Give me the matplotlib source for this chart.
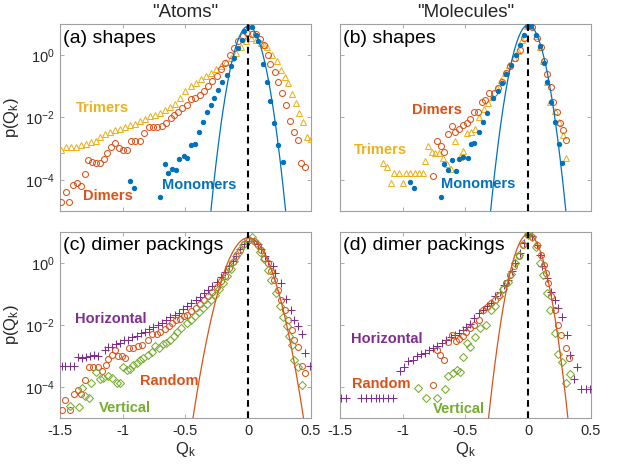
import numpy as np
import matplotlib
matplotlib.use("Agg")
import matplotlib.pyplot as plt
from matplotlib.ticker import FixedLocator, NullLocator

plt.rcParams['font.family'] = ['Liberation Sans', 'DejaVu Sans']
plt.rcParams['mathtext.fontset'] = 'custom'
plt.rcParams['mathtext.rm'] = 'Liberation Sans'
plt.rcParams['mathtext.it'] = 'Liberation Sans:italic'
plt.rcParams['axes.unicode_minus'] = False

# colours (matlab default order)
BLUE = '#0072BD'
ORANGE = '#D95319'
YELLOW = '#EDB120'
PURPLE = '#7E2F8E'
GREEN = '#77AC30'

# ---- data: x = Q_k, y = log10 p(Q_k) ----
# (a) "Atoms" shapes
a_tri_x = [-1.49, -1.45, -1.41, -1.37, -1.33, -1.29, -1.25, -1.21, -1.18, -1.14, -1.10, -1.06,
           -1.02, -0.98, -0.94, -0.90, -0.86, -0.82, -0.78, -0.74, -0.70, -0.66, -0.62, -0.58,
           -0.54, -0.50, -0.46, -0.42, -0.38, -0.34, -0.30, -0.26, -0.22, -0.18, -0.14, -0.10,
           -0.06, -0.02, 0.02, 0.06, 0.10, 0.128, 0.150, 0.187, 0.230, 0.262, 0.289, 0.320,
           0.350, 0.382, 0.408, 0.435, 0.470, 0.497]
a_tri_y = [-3.05, -2.95, -2.95, -2.95, -2.89, -2.84, -2.78, -2.76, -2.62, -2.52, -2.46, -2.41,
           -2.36, -2.30, -2.25, -2.20, -2.12, -2.04, -1.96, -1.91, -1.85, -1.77, -1.66, -1.56,
           -1.36, -1.14, -1.00, -0.88, -0.78, -0.67, -0.57, -0.46, -0.34, -0.22, -0.09, 0.06,
           0.26, 0.46, 0.55, 0.50, 0.40, 0.34, 0.25, 0.01, -0.18, -0.47, -0.69, -0.90,
           -1.26, -1.55, -1.87, -2.14, -2.62, -2.70]

a_dim_x = [-1.492, -1.455, -1.428, -1.398, -1.366, -1.332, -1.300, -1.273, -1.246, -1.212, -1.180,
           -1.153, -1.126, -1.094, -1.059, -1.033, -0.998, -0.966, -0.934, -0.899, -0.865, -0.833,
           -0.793, -0.758, -0.726, -0.691, -0.659, -0.619, -0.592, -0.558, -0.526, -0.491, -0.459,
           -0.424, -0.387, -0.352, -0.320, -0.286, -0.251, -0.219, -0.187, -0.149, -0.112, -0.080,
           -0.045, -0.011, 0.027, 0.061, 0.096, 0.128, 0.155, 0.176, 0.214, 0.241, 0.267, 0.302,
           0.329, 0.363, 0.395, 0.422, 0.454]
a_dim_y = [-4.71, -4.39, -4.71, -4.17, -4.10, -4.19, -3.80, -3.37, -3.42, -3.47, -3.47,
           -3.34, -3.15, -2.94, -2.83, -2.99, -3.04, -3.04, -2.77, -2.74, -2.74, -2.51,
           -2.29, -2.29, -2.29, -2.27, -2.18, -2.02, -1.91, -1.81, -1.70, -1.59, -1.41,
           -1.38, -1.27, -1.16, -1.00, -0.84, -0.68, -0.46, -0.25, 0.02, 0.24, 0.45,
           0.61, 0.72, 0.69, 0.67, 0.53, 0.31, 0.01, -0.29, -0.55, -0.85, -1.22, -1.60,
           -2.11, -2.48, -2.73, -3.45, -3.59]

a_mon_x = [-0.942, -0.907, -0.702, -0.667, -0.640, -0.608, -0.576, -0.549, -0.515, -0.488, -0.453,
           -0.427, -0.392, -0.360, -0.331, -0.299, -0.272, -0.240, -0.211, -0.173, -0.139, -0.112,
           -0.080, -0.053, -0.032, -0.005, 0.027, 0.062, 0.080, 0.115, 0.150, 0.176, 0.208, 0.240,
           0.275]
a_mon_y = [-4.05, -4.26, -4.56, -3.48, -3.77, -3.65, -3.70, -3.32, -3.24, -3.30, -2.87,
           -2.84, -2.48, -2.14, -1.84, -1.60, -1.36, -1.12, -0.85, -0.63, -0.36, -0.10,
           0.23, 0.50, 0.76, 0.89, 0.89, 0.66, 0.44, -0.29, -0.87, -1.46, -2.19, -2.87,
           -3.43]

# (b) "Molecules" shapes
b_tri_x = [-1.156, -1.124, -1.097, -1.068, -1.030, -1.001, -0.974, -0.942, -0.902, -0.868, -0.841,
           -0.822, -0.796, -0.769, -0.743, -0.708, -0.676, -0.644, -0.617, -0.582, -0.542, -0.521,
           -0.489, -0.456, -0.422, -0.390, -0.356, -0.323, -0.288, -0.248, -0.214, -0.182, -0.155,
           -0.115, -0.083, -0.048, -0.008, 0.026, 0.058, 0.093, 0.120, 0.147, 0.173, 0.211, 0.245,
           0.280, 0.304]
b_tri_y = [-3.47, -3.58, -4.10, -3.77, -3.77, -4.10, -3.77, -3.77, -3.77, -3.77, -3.77,
           -3.39, -2.91, -3.10, -3.13, -3.13, -3.30, -3.48, -3.65, -2.76, -3.27, -3.08,
           -2.49, -2.46, -2.37, -1.98, -1.73, -1.55, -1.33, -1.06, -0.79, -0.58, -0.31,
           -0.10, 0.14, 0.50, 0.93, 0.93, 0.60, 0.25, -0.18, -0.85, -1.49, -1.79, -2.16,
           -2.55, -3.30]

b_dim_x = [-0.761, -0.729, -0.697, -0.670, -0.636, -0.609, -0.582, -0.548, -0.521, -0.489, -0.462,
           -0.436, -0.404, -0.368, -0.342, -0.310, -0.275, -0.243, -0.208, -0.174, -0.142, -0.102,
           -0.067, -0.035, 0.000, 0.032, 0.066, 0.098, 0.125, 0.152, 0.179, 0.200, 0.227, 0.253,
           0.277, 0.304]
b_dim_y = [-3.88, -2.77, -2.90, -3.10, -2.52, -2.27, -2.46, -2.37, -2.25, -2.19, -2.05,
           -1.84, -1.82, -1.49, -1.44, -1.23, -1.23, -1.04, -0.85, -0.58, -0.36, -0.10,
           0.17, 0.55, 0.93, 0.89, 0.55, 0.25, -0.20, -0.61, -1.01, -1.49, -1.84, -2.19,
           -2.41, -2.73]

b_mon_x = [-0.942, -0.910, -0.697, -0.668, -0.636, -0.609, -0.574, -0.548, -0.516, -0.481, -0.456,
           -0.430, -0.390, -0.360, -0.328, -0.283, -0.243, -0.208, -0.174, -0.136, -0.096, -0.062,
           -0.030, 0.000, 0.026, 0.058, 0.093, 0.125, 0.152, 0.184, 0.211, 0.243, 0.272]
b_mon_y = [-4.07, -4.26, -4.56, -3.48, -3.67, -3.38, -3.72, -3.32, -3.27, -3.30, -2.84,
           -2.81, -2.48, -2.16, -1.87, -1.36, -1.15, -0.90, -0.61, -0.31, 0.01, 0.31,
           0.66, 0.93, 0.93, 0.64, 0.28, -0.26, -0.85, -1.49, -2.14, -2.84, -3.45]

# (c) "Atoms" dimer packings
c_hor_x = [-1.487, -1.457, -1.422, -1.388, -1.356, -1.323, -1.289, -1.262, -1.227, -1.195, -1.142,
           -1.115, -1.089, -1.057, -1.022, -0.987, -0.955, -0.923, -0.889, -0.854, -0.822, -0.789,
           -0.755, -0.721, -0.689, -0.657, -0.622, -0.587, -0.555, -0.523, -0.488, -0.455, -0.420,
           -0.385, -0.352, -0.320, -0.285, -0.251, -0.219, -0.187, -0.152, -0.125, -0.098, -0.064,
           -0.032, 0.008, 0.043, 0.075, 0.102, 0.130, 0.160, 0.195, 0.216, 0.262, 0.302, 0.342,
           0.368, 0.395, 0.428, 0.454, 0.489]
c_hor_y = [-3.31, -3.31, -3.31, -3.31, -3.03, -3.07, -3.03, -2.99, -2.96, -3.01, -2.80,
           -2.71, -2.71, -2.60, -2.58, -2.50, -2.47, -2.39, -2.35, -2.26, -2.21, -2.13,
           -2.06, -2.01, -1.94, -1.83, -1.74, -1.68, -1.60, -1.50, -1.40, -1.30, -1.20,
           -1.09, -0.98, -0.86, -0.73, -0.60, -0.45, -0.29, -0.10, 0.06, 0.24, 0.45,
           0.62, 0.72, 0.70, 0.60, 0.45, 0.22, 0.05, -0.11, -0.32, -0.65, -1.16, -1.51,
           -1.83, -2.04, -2.28, -2.90, -3.31]

c_ran_x = [-1.484, -1.457, -1.422, -1.388, -1.356, -1.334, -1.297, -1.270, -1.235, -1.201, -1.169,
           -1.137, -1.115, -1.089, -1.062, -1.035, -1.008, -0.982, -0.950, -0.915, -0.875, -0.843,
           -0.801, -0.763, -0.729, -0.701, -0.667, -0.635, -0.608, -0.576, -0.541, -0.515, -0.491,
           -0.453, -0.419, -0.384, -0.352, -0.320, -0.285, -0.251, -0.219, -0.187, -0.152, -0.125,
           -0.098, -0.064, -0.032, 0.008, 0.043, 0.075, 0.102, 0.128, 0.155, 0.182, 0.208, 0.235,
           0.262, 0.294, 0.320, 0.347, 0.368, 0.395, 0.428, 0.454]
c_ran_y = [-4.73, -4.41, -4.73, -4.22, -4.11, -4.22, -3.76, -3.34, -3.34, -3.36, -3.50,
           -3.28, -3.10, -2.96, -2.82, -3.01, -3.01, -3.06, -2.74, -2.74, -2.69, -2.64,
           -2.47, -2.28, -2.28, -2.24, -2.13, -2.04, -1.92, -1.85, -1.81, -1.72, -1.67,
           -1.56, -1.45, -1.31, -1.18, -1.08, -0.92, -0.77, -0.59, -0.41, -0.16, 0.02,
           0.21, 0.43, 0.62, 0.73, 0.70, 0.59, 0.41, 0.16, 0.00, -0.27, -0.54, -0.86,
           -1.18, -1.51, -1.83, -2.15, -2.47, -2.71, -3.31, -3.55]

c_ver_x = [-1.42, -1.35, -1.323, -1.297, -1.270, -1.249, -1.217, -1.182, -1.155, -1.121, -1.089,
           -1.049, -1.022, -0.995, -0.969, -0.942, -0.915, -0.889, -0.862, -0.835, -0.801, -0.769,
           -0.741, -0.715, -0.683, -0.657, -0.622, -0.595, -0.568, -0.533, -0.491, -0.459, -0.427,
           -0.392, -0.357, -0.325, -0.293, -0.264, -0.232, -0.205, -0.171, -0.139, -0.112, -0.080,
           -0.045, -0.005, 0.027, 0.062, 0.096, 0.128, 0.155, 0.182, 0.222, 0.256, 0.275, 0.310,
           0.328, 0.347, 0.368, 0.395, 0.428]
c_ver_y = [-4.62, -4.64, -4.03, -4.30, -4.35, -3.87, -3.53, -3.74, -3.71, -3.64, -3.71,
           -3.87, -3.87, -3.34, -3.44, -3.42, -3.28, -3.21, -3.14, -3.06, -2.96, -2.88,
           -2.69, -2.74, -2.60, -2.58, -2.47, -2.37, -2.21, -2.10, -1.94, -1.83, -1.72,
           -1.59, -1.45, -1.31, -1.18, -1.02, -0.84, -0.65, -0.43, -0.19, 0.05, 0.32,
           0.59, 0.77, 0.84, 0.66, 0.37, 0.13, -0.24, -0.56, -0.97, -1.40, -1.74, -2.04,
           -2.35, -2.64, -3.14, -3.35, -3.93]

# (d) "Molecules" dimer packings
d_hor_x = [-1.489, -1.449, -1.329, -1.289, -1.249, -1.214, -1.188, -1.156, -1.116, -1.076,
           -1.022, -0.990, -0.956, -0.921, -0.889, -0.857, -0.822, -0.788, -0.756, -0.724, -0.689,
           -0.654, -0.617, -0.582, -0.548, -0.520, -0.494, -0.462, -0.435, -0.395, -0.360, -0.328,
           -0.296, -0.262, -0.227, -0.195, -0.163, -0.128, -0.102, -0.067, -0.035, -0.003, 0.032,
           0.066, 0.093, 0.112, 0.147, 0.179, 0.211, 0.237, 0.272, 0.307, 0.333, 0.365, 0.392,
           0.424, 0.459, 0.493]
d_hor_y = [-4.35, -4.35, -4.35, -4.35, -4.35, -4.35, -4.35, -4.35, -4.35, -4.35,
           -3.50, -3.35, -3.17, -3.12, -2.99, -2.93, -2.90, -2.80, -2.74, -2.67, -2.58,
           -2.47, -2.39, -2.31, -2.26, -2.15, -2.06, -1.96, -1.77, -1.61, -1.51, -1.40,
           -1.29, -1.08, -0.92, -0.70, -0.54, -0.27, 0.00, 0.32, 0.66, 0.91, 0.86,
           0.59, 0.27, -0.11, -0.48, -0.92, -1.18, -1.45, -1.74, -2.31, -2.96, -3.74, -3.35,
           -4.06, -4.06, -4.06]

d_ran_x = [-0.761, -0.729, -0.702, -0.670, -0.636, -0.609, -0.574, -0.548, -0.520, -0.494, -0.462,
           -0.430, -0.395, -0.360, -0.328, -0.296, -0.267, -0.235, -0.200, -0.174, -0.142, -0.110,
           -0.075, -0.040, -0.003, 0.032, 0.066, 0.098, 0.125, 0.139, 0.157, 0.184, 0.211, 0.237,
           0.264, 0.299, 0.325]
d_ran_y = [-3.93, -2.80, -2.96, -3.12, -2.56, -2.31, -2.53, -2.45, -2.35, -2.21, -2.10,
           -1.99, -1.83, -1.51, -1.42, -1.29, -1.18, -1.02, -0.84, -0.65, -0.38, -0.11,
           0.21, 0.59, 0.91, 0.84, 0.59, 0.27, -0.05, -0.32, -0.65, -1.08, -1.51, -1.99,
           -2.31, -2.74, -3.06]

d_ver_x = [-0.876, -0.814, -0.729, -0.662, -0.636, -0.596, -0.569, -0.542, -0.516, -0.486, -0.462,
           -0.426, -0.382, -0.334, -0.296, -0.262, -0.230, -0.200, -0.165, -0.135, -0.105, -0.075,
           -0.040, 0.000, 0.030, 0.065, 0.095, 0.120, 0.147, 0.173, 0.211, 0.237, 0.272, 0.304,
           0.333]
d_ver_y = [-4.03, -4.35, -4.35, -4.06, -3.64, -3.55, -3.44, -3.53, -3.03, -2.57, -2.71,
           -2.40, -2.10, -1.99, -1.53, -1.40, -1.05, -0.85, -0.60, -0.35, 0.00, 0.25,
           0.60, 0.95, 0.85, 0.50, 0.00, -0.40, -0.97, -1.51, -2.26, -2.93, -3.19, -3.87,
           -3.57]

# gaussian reference curves: (peak height, sigma)
gauss_a = (8.5, 0.057)
gauss_b = (9.3, 0.0572)
gauss_c = (6.5, 0.0851)
gauss_d = (8.5, 0.0605)

xticks = [-1.5, -1, -0.5, 0, 0.5]
xtick_labels = ['-1.5', '-1', '-0.5', '0', '0.5']
yticks = [1e-4, 1e-2, 1e0]
ytick_labels = [r'$\mathregular{10^{-4}}$', r'$\mathregular{10^{-2}}$', r'$\mathregular{10^{0}}$']

FRAME = '#a0a0a0'
TXT = '#262626'

fig = plt.figure(figsize=(6.23, 4.72), dpi=100)
ax_a = fig.add_axes([0.0963, 0.5530, 0.4029, 0.3962])
ax_b = fig.add_axes([0.5457, 0.5530, 0.4029, 0.3962])
ax_c = fig.add_axes([0.0963, 0.1144, 0.4029, 0.3941])
ax_d = fig.add_axes([0.5457, 0.1144, 0.4029, 0.3941])


def pts(xs, ys):
    return np.array(xs), 10.0 ** np.array(ys)


def setup(ax, left, bottom):
    ax.set_yscale('log')
    ax.set_xlim(-1.5, 0.5)
    ax.set_ylim(1e-5, 10)
    ax.xaxis.set_major_locator(FixedLocator(xticks))
    ax.yaxis.set_major_locator(FixedLocator(yticks))
    ax.yaxis.set_minor_locator(NullLocator())
    ax.xaxis.set_minor_locator(NullLocator())
    ax.tick_params(direction='in', length=3, width=0.6, color=FRAME, top=True, right=True,
                   labelsize=10.5, labelcolor=TXT, pad=4)
    if bottom:
        ax.set_xticklabels(xtick_labels)
        ax.set_xlabel(r'Q$_\mathregular{k}$', fontsize=12, color=TXT, labelpad=2)
    else:
        ax.set_xticklabels([])
    if left:
        ax.set_yticklabels(ytick_labels)
        ax.set_ylabel(r'p(Q$_\mathregular{k}$)', fontsize=12, color=TXT, labelpad=3)
    else:
        ax.set_yticklabels([])
    for s in ax.spines.values():
        s.set_color(FRAME)
        s.set_linewidth(0.8)


def gauss_line(ax, params, color):
    amp, sig = params
    q = np.linspace(-1.5, 0.5, 1001)
    ax.plot(q, amp * np.exp(-q ** 2 / (2 * sig ** 2)), color=color, lw=0.9, zorder=4)
    ax.axvline(0, color='k', ls=(0, (3.2, 2.2)), lw=1.5, zorder=5)


mk = dict(ls='none', mew=0.75, zorder=3)
MS_O, MS_TRI, MS_DIA, MS_PLUS, MS_DOT = 4.3, 4.8, 3.9, 5.5, 3.1

# (a)
x, y = pts(a_tri_x, a_tri_y)
ax_a.plot(x, y, marker='^', ms=MS_TRI, mfc='none', mec=YELLOW, **mk)
x, y = pts(a_dim_x, a_dim_y)
ax_a.plot(x, y, marker='o', ms=MS_O, mfc='none', mec=ORANGE, **mk)
x, y = pts(a_mon_x, a_mon_y)
ax_a.plot(x, y, marker='o', ms=MS_DOT, mfc=BLUE, mec=BLUE, **mk)
gauss_line(ax_a, gauss_a, BLUE)

# (b)
x, y = pts(b_tri_x, b_tri_y)
ax_b.plot(x, y, marker='^', ms=MS_TRI, mfc='none', mec=YELLOW, **mk)
x, y = pts(b_dim_x, b_dim_y)
ax_b.plot(x, y, marker='o', ms=MS_O, mfc='none', mec=ORANGE, **mk)
x, y = pts(b_mon_x, b_mon_y)
ax_b.plot(x, y, marker='o', ms=MS_DOT, mfc=BLUE, mec=BLUE, **mk)
gauss_line(ax_b, gauss_b, BLUE)

# (c)
x, y = pts(c_hor_x, c_hor_y)
ax_c.plot(x, y, marker='+', ms=MS_PLUS, mec=PURPLE, **mk)
x, y = pts(c_ran_x, c_ran_y)
ax_c.plot(x, y, marker='o', ms=MS_O, mfc='none', mec=ORANGE, **mk)
x, y = pts(c_ver_x, c_ver_y)
ax_c.plot(x, y, marker='D', ms=MS_DIA, mfc='none', mec=GREEN, **mk)
gauss_line(ax_c, gauss_c, ORANGE)

# (d)
x, y = pts(d_hor_x, d_hor_y)
ax_d.plot(x, y, marker='+', ms=MS_PLUS, mec=PURPLE, **mk)
x, y = pts(d_ran_x, d_ran_y)
ax_d.plot(x, y, marker='o', ms=MS_O, mfc='none', mec=ORANGE, **mk)
x, y = pts(d_ver_x, d_ver_y)
ax_d.plot(x, y, marker='D', ms=MS_DIA, mfc='none', mec=GREEN, **mk)
gauss_line(ax_d, gauss_d, ORANGE)

setup(ax_a, True, False)
setup(ax_b, False, False)
setup(ax_c, True, True)
setup(ax_d, False, True)

ax_a.set_title('"Atoms"', fontsize=13.5, color=TXT, pad=5)
ax_b.set_title('"Molecules"', fontsize=13.5, color=TXT, pad=5)

# panel labels
for ax, lab in [(ax_a, '(a) shapes'), (ax_b, '(b) shapes'),
                (ax_c, '(c) dimer packings'), (ax_d, '(d) dimer packings')]:
    ax.text(0.012, 0.925, lab, transform=ax.transAxes, fontsize=14, color='k',
            ha='left', va='center', zorder=6)

# series labels
lbl = dict(fontsize=10.5, fontweight='bold', ha='center', va='center', zorder=6)
ax_a.text(-1.163, 10 ** -1.69, 'Trimers', color=YELLOW, **lbl)
ax_a.text(-1.118, 10 ** -4.53, 'Dimers', color=ORANGE, **lbl)
ax_a.text(-0.392, 10 ** -4.17, 'Monomers', color=BLUE, **lbl)

ax_b.text(-0.724, 10 ** -1.75, 'Dimers', color=ORANGE, **lbl)
ax_b.text(-1.175, 10 ** -3.04, 'Trimers', color=YELLOW, **lbl)
ax_b.text(-0.395, 10 ** -4.12, 'Monomers', color=BLUE, **lbl)

ax_c.text(-1.094, 10 ** -1.81, 'Horizontal', color=PURPLE, **lbl)
ax_c.text(-0.632, 10 ** -3.82, 'Random', color=ORANGE, **lbl)
ax_c.text(-0.979, 10 ** -4.68, 'Vertical', color=GREEN, **lbl)

ax_d.text(-1.124, 10 ** -2.45, 'Horizontal', color=PURPLE, **lbl)
ax_d.text(-1.169, 10 ** -3.89, 'Random', color=ORANGE, **lbl)
ax_d.text(-0.556, 10 ** -4.71, 'Vertical', color=GREEN, **lbl)

fig.savefig('out.png', dpi=100)
